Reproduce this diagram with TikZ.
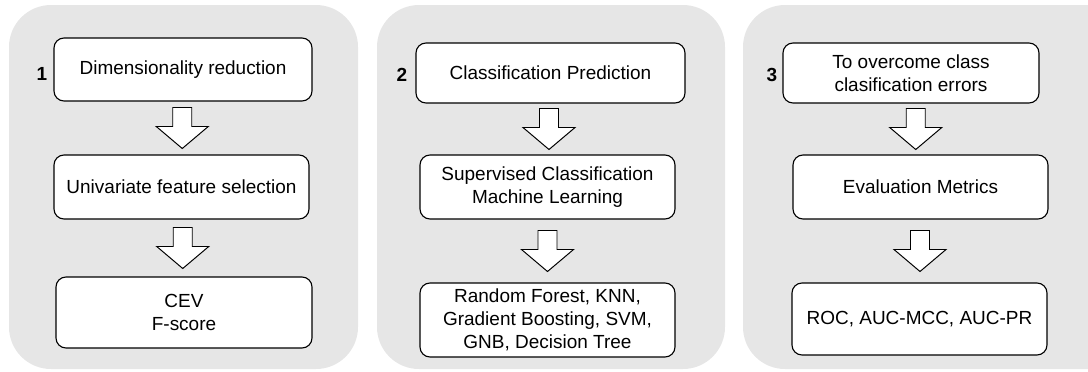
\documentclass[tikz,border=0pt]{standalone}
\usepackage{fontspec}
\setmainfont{Liberation Sans}
\usetikzlibrary{calc,positioning}

\definecolor{panelgray}{HTML}{E6E6E6}
\def\px{0.025cm}

\tikzset{
  stepbox/.style={draw, fill=white, rounded corners=10*\px, line width=0.8pt,
    align=center, inner sep=2pt, font=\fontsize{13.5}{16.5}\selectfont},
  stepnum/.style={font=\fontsize{13.5}{16.5}\selectfont\bfseries},
  blockarrow/.style={draw, fill=white, line width=0.7pt, line join=miter}
}

% hollow down arrow halfway between two boxes
\newcommand{\downstep}[2]{%
  \coordinate (mid) at ($(#1.south)!0.5!(#2.north)$);
  \draw[blockarrow] ($(mid)+(-9.5,-20.5)$) -- ($(mid)+(9.5,-20.5)$)
    -- ($(mid)+(9.5,-1.5)$) -- ($(mid)+(26,-1.5)$) -- ($(mid)+(0,20.5)$)
    -- ($(mid)+(-26,-1.5)$) -- ($(mid)+(-9.5,-1.5)$) -- cycle;}

\begin{document}
\begin{tikzpicture}[x=\px,y=-\px]
  \useasboundingbox (0,0) rectangle (1088,371);

  \fill[panelgray, rounded corners=42*\px] (9,5) rectangle (358,369);
  \fill[panelgray, rounded corners=42*\px] (377,5) rectangle (725,369);
  \fill[panelgray, rounded corners=42*\px] (743,5) rectangle (1130,369);

  %% first column
  \node[stepbox, minimum width=258*\px, minimum height=63*\px] (dimred) at (183,69.5)
    {Dimensionality reduction};
  \node[stepbox, minimum width=255*\px, minimum height=64*\px] (univar) at (181.5,187)
    {Univariate feature selection};
  \node[stepbox, minimum width=256*\px, minimum height=71*\px] (cev) at (184,312.5)
    {CEV\\F-score};
  \node[stepnum] (one) at (42,74) {1};
  \downstep{dimred}{univar}
  \downstep{univar}{cev}

  %% second column
  \node[stepbox, minimum width=269*\px, minimum height=60*\px] (classpred) at (550.5,73)
    {Classification Prediction};
  \node[stepbox, minimum width=255*\px, minimum height=64*\px] (superv) at (547.5,187)
    {Supervised Classification\\Machine Learning};
  \node[stepbox, minimum width=255*\px, minimum height=74*\px] (models) at (547.5,320)
    {Random Forest, KNN,\\Gradient Boosting, SVM,\\GNB, Decision Tree};
  \node[stepnum] (two) at (402,75) {2};
  \downstep{classpred}{superv}
  \downstep{superv}{models}

  %% third column
  \node[stepbox, minimum width=256*\px, minimum height=60*\px] (overcome) at (911,73)
    {To overcome class\\clasification errors};
  \node[stepbox, minimum width=255*\px, minimum height=64*\px] (evalm) at (920.5,187)
    {Evaluation Metrics};
  \node[stepbox, minimum width=255*\px, minimum height=72*\px] (metrics) at (919.5,319)
    {ROC, AUC-MCC, AUC-PR};
  \node[stepnum] (three) at (772,75) {3};
  \downstep{overcome}{evalm}
  \downstep{evalm}{metrics}

\end{tikzpicture}
\end{document}
